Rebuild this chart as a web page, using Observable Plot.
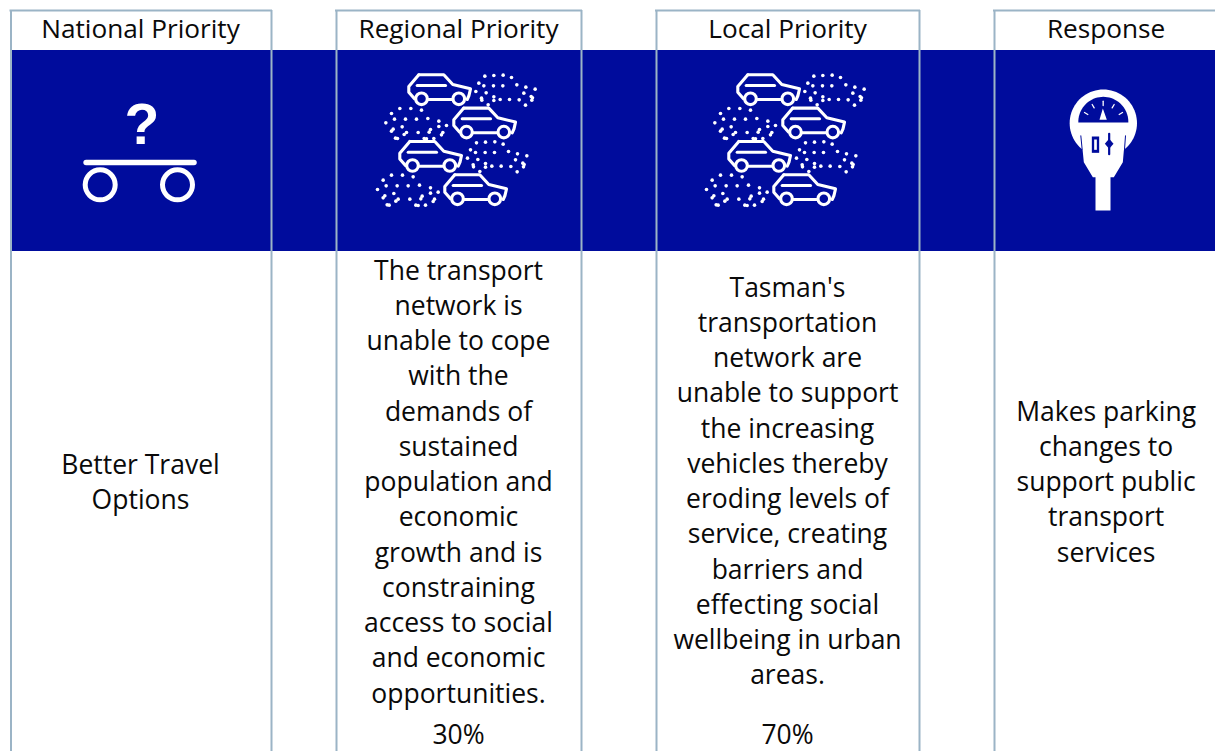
<!DOCTYPE html>
<html><head><meta charset="utf-8">
<script src="https://cdn.jsdelivr.net/npm/d3@7"></script>
<script src="https://cdn.jsdelivr.net/npm/@observablehq/plot@0.6"></script>
<style>html,body{margin:0;padding:0;background:#fff}svg{display:block}</style>
</head><body><div id="chart"></div>
<script>
// ---- content ----
const headers = ["National Priority", "Regional Priority", "Local Priority", "Response"];
const nationalLines = ["Better Travel", "Options"];
const regionalLines = ["The transport", "network is", "unable to cope", "with the", "demands of", "sustained", "population and", "economic", "growth and is", "constraining", "access to social", "and economic", "opportunities."];
const localLines = ["Tasman's", "transportation", "network are", "unable to support", "the increasing", "vehicles thereby", "eroding levels of", "service, creating", "barriers and", "effecting social", "wellbeing in urban", "areas."];
const responseLines = ["Makes parking", "changes to", "support public", "transport", "services"];
const regionalShare = "30%";
const localShare = "70%";

// ---- layout ----
const W = 1215, H = 751;
const BLUE = "#000c9c", EDGE = "#9bb4c6", FONT = "Open Sans", FS = 26.5, LH = 35.27;
const boxes = [[10.5, 271], [336, 581], [656, 919], [994, 1216]];
const centers = [140, 458, 787, 1105.6];
const firstBaseline = [473, 279, 296, 420];

const textRows = [nationalLines, regionalLines, localLines, responseLines].flatMap((lines, c) =>
  lines.map((t, i) => ({t, x: centers[c], y: firstBaseline[c] + i * LH})));
const headRows = headers.map((t, c) => ({t, x: centers[c], y: 37.6}));
const shareRows = [{t: regionalShare, x: centers[1], y: 743}, {t: localShare, x: centers[2], y: 743}];

// ---- icon: car traffic ----
const carBody = [[-8.7,-13.7],[16.3,-13.7],[25.3,-4],[43,0.3],[41.5,7],[39.7,11]];
const carLeft = [[-8.7,-13.7],[-18.7,-2],[-18.7,3.7],[-13,10.3]];
const carMid = [[0.3,11],[25.3,11]];
const carBar = [[-10.3,-3],[18,-3]];
const carWheels = [[-6,10.3],[31.3,10.3]];
const carOff = [[0,0],[45,33.3],[-9,66.7],[36,100]];
const dotsA = [[358,47],[385,45],[413,44],[438,51],[340,68],[355,76],[384,76],[412,76],[454,73],[481,80],[509,86],[331,93],[362,97],[475,98],[348,113],[349,119],[385,109],[385,120],[404,117],[432,117],[461,118],[497,108],[501,112],[499,119],[480,134],[368,133]];
const dotsB = [[80,159],[105,144],[138,144],[170,149],[63,187],[89,176],[122,176],[155,176],[189,174],[222,182],[245,195],[222,198],[80,212],[85,206],[112,199],[118,222],[125,216],[160,216],[193,215],[197,207],[234,216],[230,223],[92,233],[98,234],[178,234],[185,235],[207,234]];
function trafficIcon(dx) {
  const lines = [], wheels = [], dots = [];
  let id = 0;
  const base = [427 + dx, 88];
  carOff.forEach(([ox, oy]) => {
    for (const part of [carBody, carLeft, carMid, carBar]) {
      id++;
      part.forEach(([x, y]) => lines.push({x: base[0] + ox + x, y: base[1] + oy + y, id}));
    }
    carWheels.forEach(([x, y]) => wheels.push({x: base[0] + ox + x, y: base[1] + oy + y}));
  });
  const z = 3, X = 365 + dx, Y = 60;
  for (const [sx, sy] of [[0,0],[-25,200]]) {
    dotsA.forEach(([x, y]) => dots.push({x: X + (x + sx) / z, y: Y + (y + sy) / z}));
    dotsB.forEach(([x, y]) => dots.push({x: X + (x + sx - 2) / z, y: Y + (y + sy) / z}));
  }
  return {lines, wheels, dots};
}
const iconA = trafficIcon(0), iconB = trafficIcon(329);

// ---- icon: parking meter ----
const mz = ([x, y]) => ({x: 1050 + x / 3, y: 80 + y / 3});
const arc = (cx, cy, r, a0, a1, n = 40) => d3.range(n + 1).map(i => {
  const a = a0 + (a1 - a0) * i / n; return [cx + r * Math.cos(a), cy + r * Math.sin(a)];
});
const meterHead = arc(158.5, 128, 101, 0, 2 * Math.PI, 80).map(mz);
const meterBody = [[92,165],[100,245],[127,290],[135,290],[135,390],[180,390],[180,290],[190,290],[217,245],[224,165]].map(mz);
const meterDial = arc(158.5, 124, 75, Math.PI - 0.03, 2 * Math.PI + 0.03).map(mz);
const meterNeedle = [[147,118],[157,84],[169,118]].map(mz);
const meterTicks = [[[158,62],[158,75]],[[125,72],[131,82]],[[102,96],[112,102]],[[191,72],[185,82]],[[216,96],[206,102]]]
  .flatMap((seg, id) => seg.map(p => ({...mz(p), id})));
const meterSlits = [[[91,166],[95,207]],[[225,166],[222,207]]].flatMap((seg, id) => seg.map(p => ({...mz(p), id})));
const meterSlot = [[124,168],[146,168],[146,217],[124,217]].map(mz);
const meterSlotIn = [[131,177],[139,177],[139,208],[131,208]].map(mz);
const meterCoin = [[176,160],[176,221]].map(mz);
const meterKnob = [[176,175],[189,190],[176,205],[163,190]].map(mz);

const line = (d, o) => Plot.line(d, {x: "x", y: "y", z: "id", curve: "linear", ...o});
const poly = (d, fill) => Plot.line(d, {x: "x", y: "y", curve: "linear", fill, stroke: "none"});
const pt = d => d.map(p => ({x: p[0], y: p[1]}));

const txt = (d, o) => Plot.text(d, {x: "x", y: "y", text: "t", lineAnchor: "bottom", textAnchor: "middle",
  fontFamily: FONT, fontSize: FS, fill: "#0a0a0a", ...o});

const marks = [
  Plot.rectY([{}], {x1: 10, x2: W, y1: 50, y2: 251, fill: BLUE}),
  Plot.ruleX(boxes.flat(), {x: d => d, y1: 10, y2: H + 2, stroke: EDGE, strokeWidth: 2}),
  Plot.ruleY(boxes, {y: () => 10, x1: d => d[0] - 1, x2: d => d[1] + 1, stroke: EDGE, strokeWidth: 2}),
  txt(headRows, {fontSize: 26.2}),
  txt(textRows),
  txt(shareRows),
  // balance icon
  Plot.text([{t: "?", x: 141.3, y: 143}], {x: "x", y: "y", text: "t", lineAnchor: "bottom", fontFamily: "Liberation Sans", fontWeight: 700, fontSize: 57, fill: "white"}),
  line(pt([[85.6,162],[193.5,162]]).map(p => ({...p, id: 0})), {stroke: "white", strokeWidth: 5.5, strokeLinecap: "round"}),
  Plot.dot(pt([[99.7,184.3],[177,184.3]]), {x: "x", y: "y", r: 15, stroke: "white", strokeWidth: 5, fill: "none"}),
  // traffic icons
  ...[iconA, iconB].flatMap(ic => [
    line(ic.lines, {stroke: "white", strokeWidth: 3.1, strokeLinejoin: "round", strokeLinecap: "round"}),
    Plot.dot(ic.wheels, {x: "x", y: "y", r: 5.8, stroke: "white", strokeWidth: 3.1, fill: BLUE}),
    Plot.dot(ic.dots, {x: "x", y: "y", r: 1.8, fill: "white", stroke: "none"})
  ]),
  // parking meter
  poly(meterHead, "white"),
  poly(meterBody, "white"),
  line(meterSlits, {stroke: BLUE, strokeWidth: 1}),
  poly(meterDial, BLUE),
  poly(meterNeedle, "white"),
  line(meterTicks, {stroke: "white", strokeWidth: 1.3}),
  poly(meterSlot, BLUE),
  poly(meterSlotIn, "white"),
  line(meterCoin.map(p => ({...p, id: 0})), {stroke: BLUE, strokeWidth: 2.2}),
  poly(meterKnob, BLUE)
];

const plot = Plot.plot({
  width: W, height: H, margin: 0,
  x: {domain: [0, W], range: [0, W], axis: null},
  y: {domain: [0, H], range: [0, H], axis: null},
  style: {background: "white"},
  marks
});
document.getElementById("chart").append(plot);
</script></body></html>
